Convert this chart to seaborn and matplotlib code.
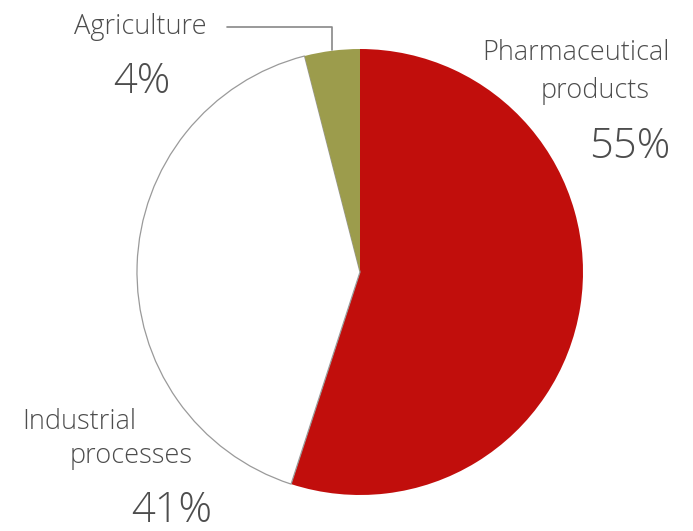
import matplotlib
matplotlib.use("Agg")
import matplotlib.pyplot as plt
import seaborn as sns

sns.set_theme(style="white")
plt.rcParams['font.family'] = ['Open Sans', 'DejaVu Sans']

categories = ["Pharmaceutical products", "Industrial processes", "Agriculture"]
shares = [55, 41, 4]
labels_pct = ["55%", "41%", "4%"]
colors = ["#C10E0C", "#FFFFFF", "#9C9C4C"]

W, H = 693, 531
fig = plt.figure(figsize=(W / 100, H / 100), dpi=100)
ax = fig.add_axes([0, 0, 1, 1])

cx, cy, r = 360, H - 272, 223
wedges, _ = ax.pie(shares, colors=colors, startangle=90, counterclock=False,
                   center=(cx, cy), radius=r, frame=True,
                   wedgeprops=dict(linewidth=0))
wedges[1].set_edgecolor("#9a9a9a")
wedges[1].set_linewidth(0.9)
ax.set_xlim(0, W)
ax.set_ylim(0, H)
ax.set_aspect("equal")
ax.axis("off")

tc = "#4d4d4d"
LS, PS = 19.5, 30
FW = "light"
def Y(y):
    return H - y

# Agriculture
ax.text(140, Y(34), "Agriculture", ha="center", va="baseline", fontsize=LS, color=tc, fontweight=FW)
ax.text(142, Y(93), labels_pct[2], ha="center", va="baseline", fontsize=PS, color=tc, fontweight=FW)
ax.plot([227, 332, 332], [Y(27), Y(27), Y(50)], color="#888888", lw=1.2)

# Pharmaceutical
ax.text(670, Y(60), "Pharmaceutical", ha="right", va="baseline", fontsize=LS, color=tc, fontweight=FW)
ax.text(650, Y(98), "products", ha="right", va="baseline", fontsize=LS, color=tc, fontweight=FW)
ax.text(670, Y(158), labels_pct[0], ha="right", va="baseline", fontsize=PS, color=tc, fontweight=FW)

# Industrial
ax.text(22, Y(429), "Industrial", ha="left", va="baseline", fontsize=LS, color=tc, fontweight=FW)
ax.text(193, Y(463), "processes", ha="right", va="baseline", fontsize=LS, color=tc, fontweight=FW)
ax.text(172, Y(522), labels_pct[1], ha="center", va="baseline", fontsize=PS, color=tc, fontweight=FW)

fig.savefig("out.png", dpi=100, facecolor="white")
